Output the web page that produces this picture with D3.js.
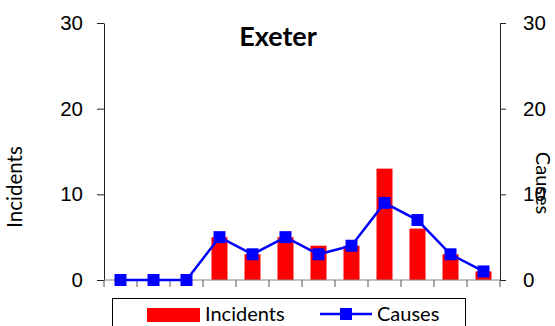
<!DOCTYPE html>
<html><head><meta charset="utf-8">
<script src="https://cdn.jsdelivr.net/npm/d3@7"></script>
<style>body{margin:0;background:#fff}svg{display:block;font-family:Lato,"Open Sans",sans-serif}</style>
</head><body>
<svg id="c" width="555" height="326"></svg>
<script>
const categories = ["1","2","3","4","5","6","7","8","9","10","11","12"];
const incidents = [0,0,0,5,3,5,4,4,13,6,3,1];
const causes = [0,0,0,5,3,5,3,4,9,7,3,1];
const yTicks = [0,10,20,30];
const title = "Exeter";

(function(){
const svg = d3.select("#c");
const mL = 104, mR = 500, mT = 23, mB = 280;
const x = d3.scaleBand().domain(categories).range([mL, mR]).paddingInner(0).paddingOuter(0);
const y = d3.scaleLinear().domain([0,30]).range([mB, mT]);
const y2 = d3.scaleLinear().domain([0,30]).range([mB, mT]);

// bars
const bw = 16;
svg.selectAll("rect.bar").data(incidents).enter().append("rect")
  .attr("x", (d,i)=>x(categories[i]) + x.bandwidth()/2 - bw/2)
  .attr("y", d=>y(d)).attr("width", bw).attr("height", d=>mB - y(d))
  .attr("fill", "#ff0000");

// left axis
const ga = svg.append("g").attr("transform", `translate(${mL},0)`)
  .call(d3.axisLeft(y).tickValues(yTicks).tickSize(7).tickPadding(14).tickSizeOuter(0));
ga.select(".domain").attr("stroke", "#222");
ga.selectAll(".tick line").attr("stroke", "#222");
ga.selectAll("text").attr("font-size", 20.5).attr("fill", "#000");

// right axis
const gr = svg.append("g").attr("transform", `translate(${mR},0)`)
  .call(d3.axisRight(y2).tickValues(yTicks).tickSize(6).tickPadding(17).tickSizeOuter(0));
gr.select(".domain").attr("stroke", "#222");
gr.selectAll(".tick line").attr("stroke", "#222");
gr.selectAll("text").attr("font-size", 20.5).attr("fill", "#000");

// x axis with category boundary ticks
const gx = svg.append("g");
gx.append("line").attr("x1", mL).attr("x2", mR).attr("y1", mB).attr("y2", mB).attr("stroke", "#888").attr("stroke-width", 1.2);
gx.selectAll("line.t").data(categories.concat(["end"])).enter().append("line")
  .attr("x1", (d,i)=> i < categories.length ? x(d) : mR)
  .attr("x2", (d,i)=> i < categories.length ? x(d) : mR)
  .attr("y1", mB).attr("y2", mB + 7).attr("stroke", "#555");

// line
const cx = (i)=> x(categories[i]) + x.bandwidth()/2;
const line = d3.line().x((d,i)=>cx(i)).y(d=>y2(d));
svg.append("path").datum(causes).attr("d", line).attr("fill", "none").attr("stroke", "#0000ff").attr("stroke-width", 2.5);
const ms = 12;
svg.selectAll("rect.m").data(causes).enter().append("rect")
  .attr("x", (d,i)=>cx(i)-ms/2).attr("y", d=>y2(d)-ms/2).attr("width", ms).attr("height", ms).attr("fill", "#0000ff");

// title
svg.append("text").attr("x", 278).attr("y", 46).attr("text-anchor", "middle")
  .attr("font-size", 27).attr("font-weight", "bold").text(title);

// axis titles
svg.append("text").attr("transform", "translate(22,187) rotate(-90)").attr("text-anchor", "middle")
  .attr("font-size", 20.5).text("Incidents");
svg.append("text").attr("transform", "translate(536,183) rotate(90)").attr("text-anchor", "middle")
  .attr("font-size", 20).text("Causes");

// legend
svg.append("rect").attr("x", 112.5).attr("y", 298.5).attr("width", 353).attr("height", 40)
  .attr("fill", "#fff").attr("stroke", "#000").attr("stroke-width", 1);
svg.append("rect").attr("x", 147).attr("y", 308).attr("width", 53).attr("height", 14).attr("fill", "#ff0000");
svg.append("text").attr("x", 205).attr("y", 321).attr("font-size", 20).text("Incidents");
svg.append("line").attr("x1", 320).attr("x2", 372).attr("y1", 314).attr("y2", 314).attr("stroke", "#0000ff").attr("stroke-width", 2.5);
svg.append("rect").attr("x", 346-ms/2).attr("y", 314-ms/2).attr("width", ms).attr("height", ms).attr("fill", "#0000ff");
svg.append("text").attr("x", 377).attr("y", 321).attr("font-size", 20).text("Causes");
})();
</script>
</body></html>
